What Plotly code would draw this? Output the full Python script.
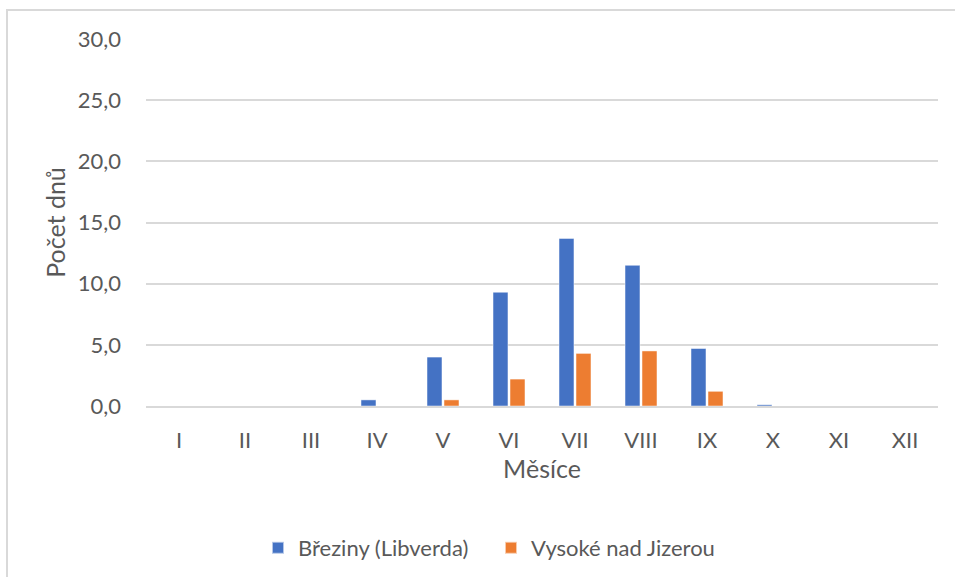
import plotly.graph_objects as go

# Months (Roman numerals) and number of days per month for each station
months = ["I", "II", "III", "IV", "V", "VI", "VII", "VIII", "IX", "X", "XI", "XII"]
breziny = [0.0, 0.0, 0.0, 0.5, 4.0, 9.3, 13.7, 11.5, 4.7, 0.1, 0.0, 0.0]
vysoke = [0.0, 0.0, 0.0, 0.0, 0.5, 2.2, 4.3, 4.5, 1.2, 0.0, 0.0, 0.0]

series_names = ["Březiny (Libverda)", "Vysoké nad Jizerou"]
colors = ["#4472C4", "#ED7D31"]
y_ticks = [0, 5, 10, 15, 20, 25, 30]

FONT = "Lato, 'Open Sans', sans-serif"
TEXT = "#595959"

W, H = 955, 577
ml, mr, mt, mb = 146, 17, 39, 171
pw, ph = W - ml - mr, H - mt - mb

fig = go.Figure()
for name, vals, col in zip(series_names, [breziny, vysoke], colors):
    fig.add_trace(go.Bar(
        x=months, y=vals, name=name,
        marker=dict(color=col, line=dict(color="rgba(255,255,255,0.6)", width=0.8)),
    ))

# outer chart frame (light grey), drawn in paper coordinates
def px_x(v):
    return (v - ml) / pw

def px_y(v):
    return (H - mb - v) / ph

fig.add_shape(type="rect", xref="paper", yref="paper",
              x0=px_x(7), x1=px_x(W + 30), y0=px_y(10), y1=px_y(H + 30),
              line=dict(color="#D9D9D9", width=2), fillcolor="rgba(0,0,0,0)", layer="below")

fig.update_layout(
    width=W, height=H,
    margin=dict(l=ml, r=mr, t=mt, b=mb, pad=0, autoexpand=False),
    paper_bgcolor="white", plot_bgcolor="white",
    barmode="group", bargap=0.485, bargroupgap=0.12,
    separators=", ",
    font=dict(family=FONT, size=22, color=TEXT),
    showlegend=True,
    legend=dict(orientation="h", x=px_x(258), xanchor="left", y=px_y(548), yanchor="middle",
                font=dict(family=FONT, size=22, color=TEXT),
                itemwidth=30, entrywidth=188, entrywidthmode="pixels",
                traceorder="normal", itemsizing="constant"),
    xaxis=dict(
        automargin=False,
        showgrid=False, showline=True, linecolor="#D9D9D9", linewidth=1.5,
        ticks="", ticklabelstandoff=14, tickfont=dict(size=22, color=TEXT),
        title=dict(text="Měsíce", font=dict(size=25, color=TEXT), standoff=6),
    ),
    yaxis=dict(
        automargin=False,
        range=[0, 30], tickvals=y_ticks, tickformat=".1f",
        showgrid=True, gridcolor="#D9D9D9", gridwidth=1.5, zeroline=False,
        showline=False, ticks="", ticklabelstandoff=24,
        tickfont=dict(size=22, color=TEXT),
        title=dict(text="Počet dnů", font=dict(size=25, color=TEXT), standoff=4),
    ),
)

fig.write_html("out.html")
